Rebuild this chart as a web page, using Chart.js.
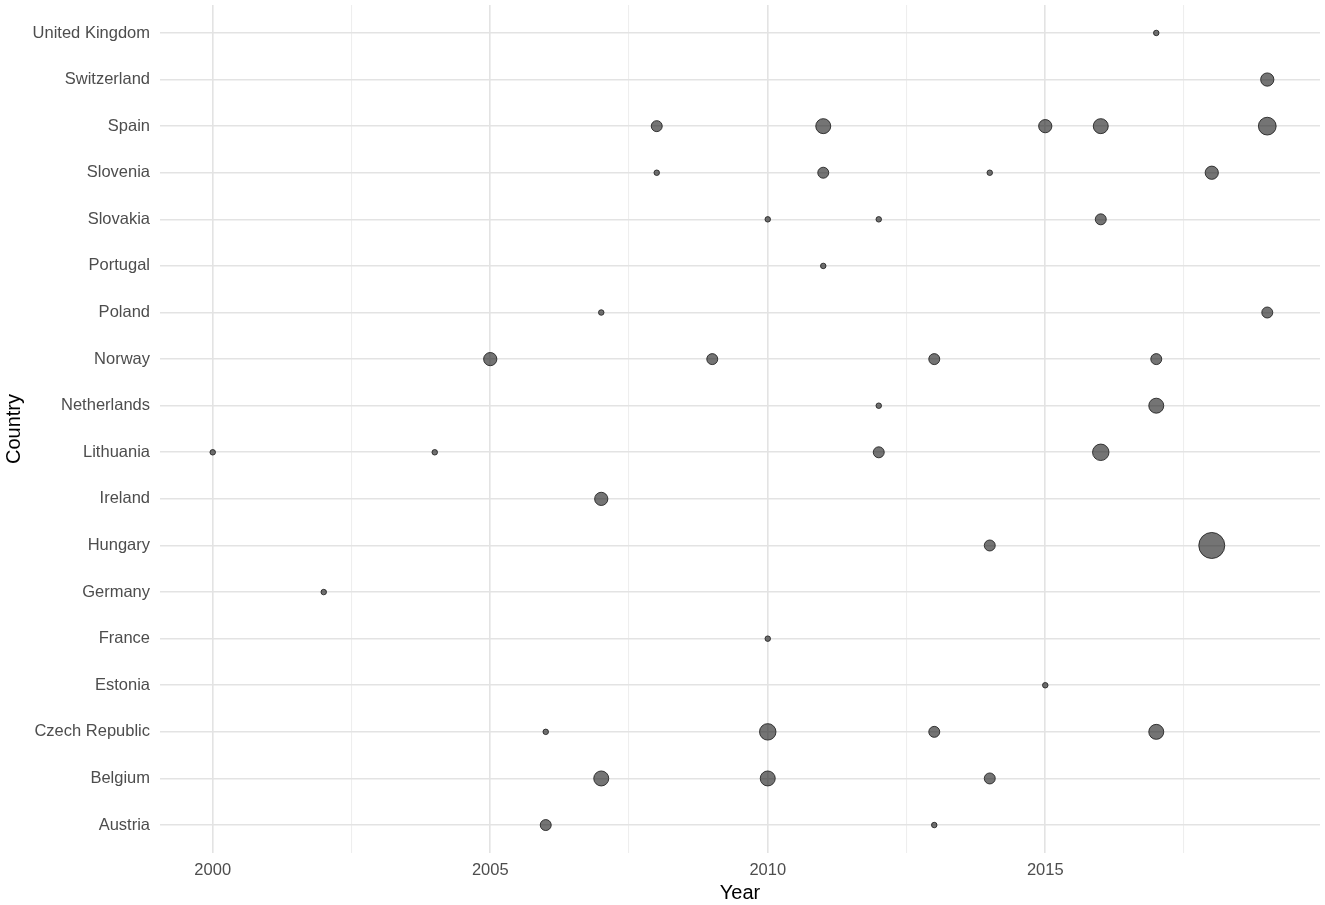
<!DOCTYPE html>
<html><head><meta charset="utf-8">
<script src="https://cdn.jsdelivr.net/npm/chart.js@4/dist/chart.umd.min.js"></script>
<style>html,body{margin:0;padding:0;background:#fff}#wrap{width:1325px;height:905px;position:relative}</style>
</head><body><div id="wrap"><canvas id="c" width="1325" height="905"></canvas></div>
<script>
// Categories (bottom to top)
const countries = ["Austria","Belgium","Czech Republic","Estonia","France","Germany","Hungary","Ireland","Lithuania","Netherlands","Norway","Poland","Portugal","Slovakia","Slovenia","Spain","Switzerland","United Kingdom"];
// Points: country, year, count (bubble size)
const pointCountry = ["United Kingdom","Switzerland","Spain","Spain","Spain","Spain","Spain","Slovenia","Slovenia","Slovenia","Slovenia","Slovakia","Slovakia","Slovakia","Portugal","Poland","Poland","Norway","Norway","Norway","Norway","Netherlands","Netherlands","Lithuania","Lithuania","Lithuania","Lithuania","Ireland","Hungary","Hungary","Germany","France","Estonia","Czech Republic","Czech Republic","Czech Republic","Czech Republic","Belgium","Belgium","Belgium","Austria","Austria"];
const pointYear =    [2017,2019,2008,2011,2015,2016,2019,2008,2011,2014,2018,2010,2012,2016,2011,2007,2019,2005,2009,2013,2017,2012,2017,2000,2004,2012,2016,2007,2014,2018,2002,2010,2015,2006,2010,2013,2017,2007,2010,2014,2006,2013];
const pointCount =   [1,   3,   2,   4,   3,   4,   6,   1,   2,   1,   3,   1,   1,   2,   1,   1,   2,   3,   2,   2,   2,   1,   4,   1,   1,   2,   5,   3,   2,   15,  1,   1,   1,   1,   5,   2,   4,   4,   4,   2,   2,   1];
// Axis ticks
const xTickLabels = [2000, 2005, 2010, 2015];
const xMinorTicks = [2002.5, 2007.5, 2012.5, 2017.5];

const cMin = Math.min(...pointCount), cMax = Math.max(...pointCount);
function radiusOf(c){ const d = 6.5 + 20.5*Math.sqrt((c-cMin)/(cMax-cMin)); return (d-1)/2; }

const yMin = Math.min(...pointYear), yMax = Math.max(...pointYear);
const xPad = (yMax - yMin)*0.05;

const data = pointCountry.map((c,i)=>({x: pointYear[i], y: countries.indexOf(c), r: radiusOf(pointCount[i])}));
const FONT = 'Liberation Sans, Arial, sans-serif';

new Chart(document.getElementById('c'), {
  type: 'bubble',
  data: { datasets: [{ data, backgroundColor: 'rgba(30,30,30,0.62)', borderColor: 'rgba(30,30,30,0.85)', borderWidth: 1 }] },
  options: {
    responsive: false, animation: false, events: [],
    layout: { autoPadding: false, padding: { top: 5, right: 5, left: 2, bottom: 0 } },
    plugins: { legend: { display: false }, tooltip: { enabled: false } },
    scales: {
      x: {
        type: 'linear', min: yMin - xPad, max: yMax + xPad,
        afterBuildTicks: s => { s.ticks = [...xTickLabels, ...xMinorTicks].sort((a,b)=>a-b).map(v=>({value:v})); },
        afterFit: s => { s.height = 52; s.paddingLeft = 0; s.paddingRight = 0; },
        border: { display: false },
        grid: { drawTicks: false,
          color: ctx => (ctx.tick && xTickLabels.includes(ctx.tick.value)) ? '#e3e3e3' : '#eeeeee',
          lineWidth: ctx => (ctx.tick && xTickLabels.includes(ctx.tick.value)) ? 1.6 : 1.1 },
        ticks: { autoSkip: false, maxRotation: 0, padding: 8, color: '#4d4d4d', font: { family: FONT, size: 16.5 },
          callback: v => xTickLabels.includes(v) ? String(v) : '' },
        title: { display: true, text: 'Year', color: '#000', font: { family: FONT, size: 20 }, padding: { top: 0, bottom: 0 } }
      },
      y: {
        type: 'linear', min: -0.6, max: countries.length - 1 + 0.6,
        afterBuildTicks: s => { s.ticks = countries.map((c,i)=>({value:i})); },
        afterFit: s => { s.width = 158; s.paddingTop = 0; s.paddingBottom = 0; },
        border: { display: false },
        grid: { drawTicks: false, color: '#e3e3e3', lineWidth: 1.6 },
        ticks: { autoSkip: false, padding: 10, color: '#4d4d4d', font: { family: FONT, size: 16.5 },
          callback: v => countries[v] },
        title: { display: true, text: 'Country', color: '#000', font: { family: FONT, size: 20 }, padding: { top: 0, bottom: 0 } }
      }
    }
  }
});
</script>
</body></html>
